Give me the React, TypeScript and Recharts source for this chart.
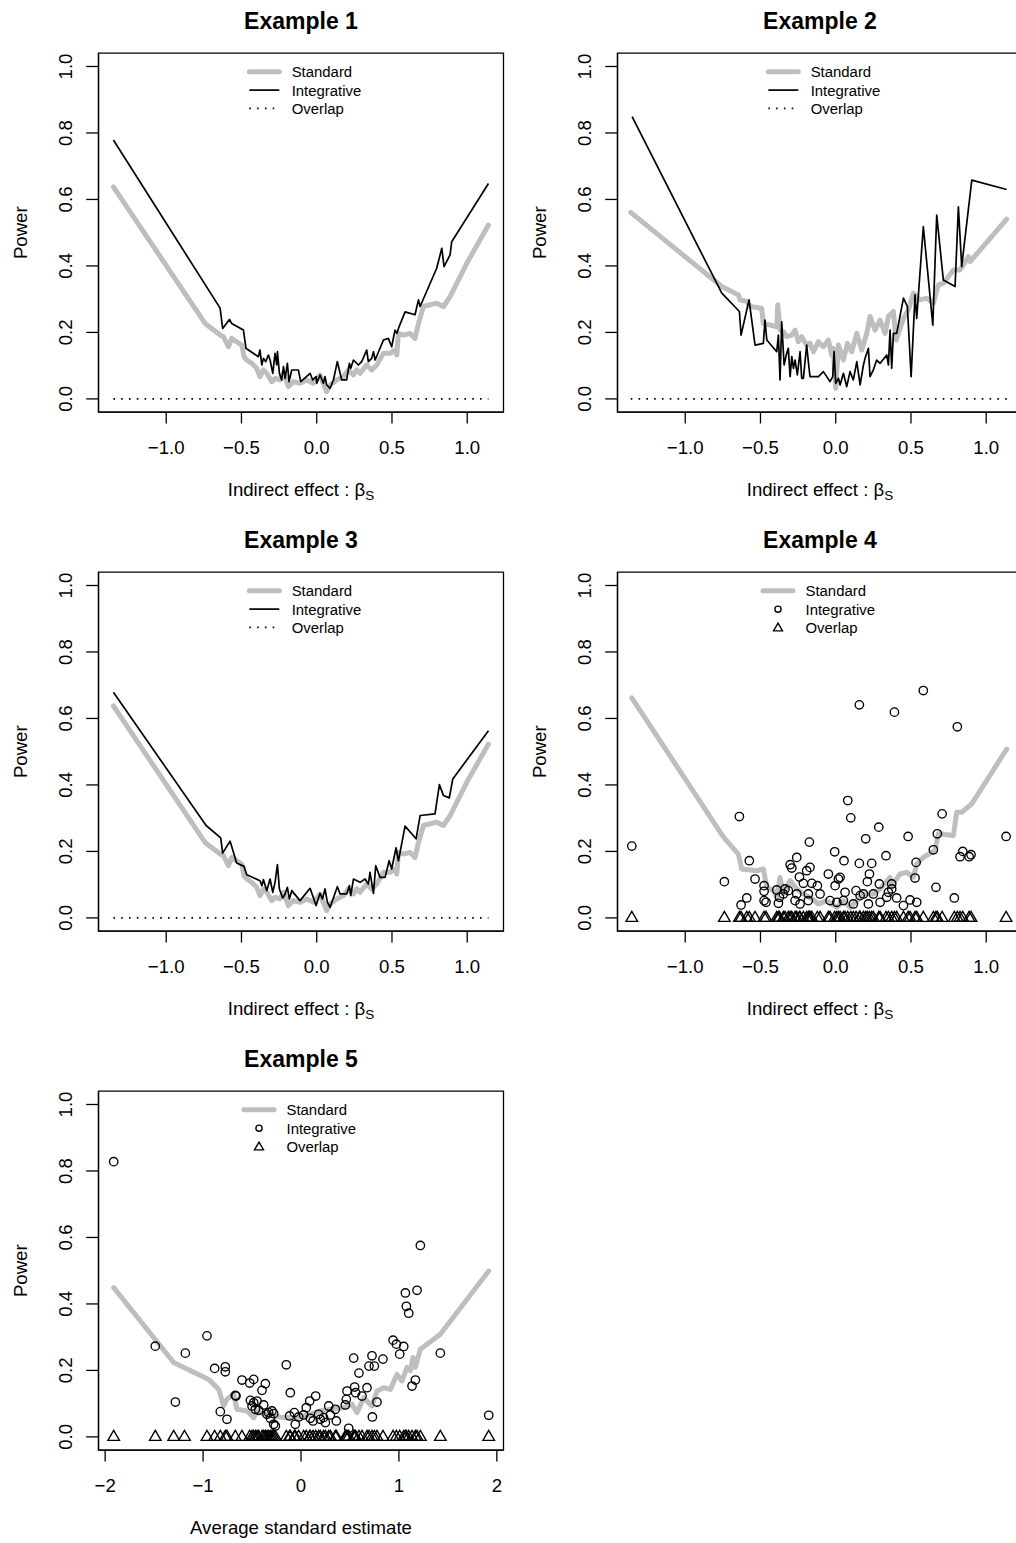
import React from 'react';
import { ComposedChart, Line, Scatter, XAxis, YAxis, ReferenceArea } from 'recharts';

type Pt = [number, number];

// ---------- Data (x = indirect effect / estimate, y = power) ----------
const ex13Standard: Pt[] = [
  [-1.351, 0.638], [-0.742, 0.227], [-0.642, 0.192], [-0.620, 0.187], [-0.587, 0.157], [-0.565, 0.182],
  [-0.532, 0.172], [-0.498, 0.162], [-0.483, 0.127], [-0.465, 0.117], [-0.432, 0.107], [-0.399, 0.092],
  [-0.377, 0.067], [-0.354, 0.087], [-0.332, 0.077], [-0.299, 0.052], [-0.277, 0.062], [-0.244, 0.057],
  [-0.221, 0.077], [-0.188, 0.037], [-0.155, 0.052], [-0.111, 0.047], [-0.066, 0.057], [-0.022, 0.047],
  [0.022, 0.072], [0.044, 0.047], [0.066, 0.022], [0.089, 0.042], [0.133, 0.057], [0.177, 0.067],
  [0.210, 0.087], [0.244, 0.072], [0.266, 0.087], [0.288, 0.077], [0.332, 0.102], [0.365, 0.087],
  [0.399, 0.102], [0.443, 0.137], [0.487, 0.137], [0.520, 0.147], [0.532, 0.132], [0.543, 0.197],
  [0.576, 0.192], [0.620, 0.197], [0.653, 0.182], [0.676, 0.227], [0.709, 0.278], [0.797, 0.288],
  [0.842, 0.278], [0.886, 0.308], [0.997, 0.408], [1.141, 0.523],
];

const ex1Integrative: Pt[] = [
  [-1.351, 0.779], [-0.642, 0.273], [-0.625, 0.212], [-0.580, 0.239], [-0.565, 0.227], [-0.487, 0.207],
  [-0.470, 0.152], [-0.454, 0.147], [-0.388, 0.127], [-0.377, 0.147], [-0.365, 0.102], [-0.354, 0.122],
  [-0.339, 0.112], [-0.321, 0.132], [-0.310, 0.117], [-0.292, 0.077], [-0.277, 0.137], [-0.266, 0.102],
  [-0.261, 0.142], [-0.248, 0.077], [-0.233, 0.057], [-0.221, 0.097], [-0.210, 0.062], [-0.195, 0.107],
  [-0.184, 0.052], [-0.166, 0.087], [-0.122, 0.087], [-0.106, 0.052], [-0.044, 0.077], [-0.027, 0.057],
  [-0.004, 0.067], [0.000, 0.047], [0.022, 0.072], [0.044, 0.047], [0.055, 0.067], [0.066, 0.042],
  [0.089, 0.032], [0.111, 0.057], [0.137, 0.112], [0.166, 0.057], [0.199, 0.057], [0.217, 0.107],
  [0.226, 0.092], [0.244, 0.117], [0.277, 0.102], [0.299, 0.112], [0.332, 0.147], [0.343, 0.112],
  [0.365, 0.122], [0.377, 0.142], [0.388, 0.117], [0.443, 0.177], [0.476, 0.182], [0.498, 0.157],
  [0.520, 0.207], [0.532, 0.197], [0.543, 0.212], [0.587, 0.262], [0.653, 0.253], [0.676, 0.298],
  [0.687, 0.278], [0.797, 0.393], [0.831, 0.453], [0.846, 0.398], [0.886, 0.433], [0.897, 0.473],
  [1.141, 0.648],
];
const ex1OverlapX: number[] = [-1.351, 1.141];

const ex2Standard: Pt[] = [
  [-1.362, 0.561], [-0.757, 0.338], [-0.647, 0.313], [-0.636, 0.298], [-0.591, 0.293], [-0.569, 0.278],
  [-0.492, 0.273], [-0.481, 0.227], [-0.392, 0.217], [-0.385, 0.283], [-0.370, 0.207], [-0.348, 0.202],
  [-0.326, 0.187], [-0.292, 0.192], [-0.270, 0.207], [-0.248, 0.172], [-0.226, 0.187], [-0.193, 0.162],
  [-0.171, 0.167], [-0.148, 0.142], [-0.115, 0.172], [-0.082, 0.157], [-0.049, 0.177], [-0.027, 0.132],
  [-0.016, 0.152], [0.000, 0.032], [0.018, 0.162], [0.051, 0.117], [0.078, 0.167], [0.106, 0.142],
  [0.140, 0.197], [0.173, 0.147], [0.206, 0.197], [0.228, 0.248], [0.261, 0.207], [0.295, 0.237],
  [0.328, 0.197], [0.350, 0.248], [0.383, 0.263], [0.401, 0.177], [0.450, 0.242], [0.483, 0.268],
  [0.516, 0.318], [0.560, 0.298], [0.605, 0.303], [0.649, 0.288], [0.682, 0.343], [0.715, 0.348],
  [0.782, 0.388], [0.826, 0.388], [0.882, 0.428], [0.893, 0.413], [1.136, 0.541],
];

const ex2Integrative: Pt[] = [
  [-1.353, 0.849], [-0.757, 0.318], [-0.640, 0.263], [-0.629, 0.192], [-0.576, 0.298], [-0.536, 0.162],
  [-0.481, 0.167], [-0.470, 0.237], [-0.458, 0.177], [-0.392, 0.142], [-0.381, 0.192], [-0.370, 0.057],
  [-0.359, 0.232], [-0.343, 0.102], [-0.326, 0.137], [-0.315, 0.152], [-0.303, 0.067], [-0.292, 0.127],
  [-0.281, 0.092], [-0.270, 0.117], [-0.255, 0.072], [-0.237, 0.142], [-0.226, 0.062], [-0.215, 0.062],
  [-0.193, 0.162], [-0.182, 0.112], [-0.171, 0.067], [-0.115, 0.067], [-0.082, 0.082], [-0.038, 0.052],
  [-0.020, 0.067], [-0.011, 0.142], [0.000, 0.047], [0.018, 0.062], [0.029, 0.042], [0.051, 0.077],
  [0.073, 0.037], [0.095, 0.082], [0.117, 0.057], [0.140, 0.112], [0.162, 0.042], [0.184, 0.102],
  [0.195, 0.122], [0.217, 0.152], [0.228, 0.067], [0.250, 0.087], [0.272, 0.117], [0.295, 0.107],
  [0.339, 0.132], [0.350, 0.102], [0.361, 0.207], [0.372, 0.092], [0.383, 0.197], [0.405, 0.197],
  [0.450, 0.303], [0.476, 0.278], [0.501, 0.067], [0.527, 0.313], [0.538, 0.242], [0.582, 0.518],
  [0.645, 0.222], [0.671, 0.553], [0.715, 0.358], [0.793, 0.338], [0.815, 0.578], [0.837, 0.398],
  [0.904, 0.658], [1.136, 0.630],
];
const ex2OverlapX: number[] = [-1.362, 1.136];

const ex3Integrative: Pt[] = [
  [-1.351, 0.679], [-0.735, 0.278], [-0.638, 0.241], [-0.625, 0.195], [-0.576, 0.231], [-0.532, 0.165],
  [-0.483, 0.155], [-0.465, 0.130], [-0.377, 0.112], [-0.365, 0.097], [-0.354, 0.115], [-0.332, 0.082],
  [-0.310, 0.117], [-0.292, 0.077], [-0.277, 0.107], [-0.261, 0.160], [-0.248, 0.087], [-0.226, 0.060],
  [-0.210, 0.072], [-0.195, 0.092], [-0.182, 0.057], [-0.166, 0.082], [-0.111, 0.052], [-0.044, 0.089],
  [-0.004, 0.037], [0.022, 0.074], [0.038, 0.057], [0.055, 0.087], [0.071, 0.047], [0.089, 0.032],
  [0.137, 0.094], [0.155, 0.072], [0.199, 0.072], [0.217, 0.097], [0.226, 0.067], [0.244, 0.117],
  [0.288, 0.107], [0.321, 0.117], [0.343, 0.102], [0.354, 0.137], [0.377, 0.074], [0.392, 0.157],
  [0.421, 0.122], [0.454, 0.122], [0.481, 0.172], [0.498, 0.147], [0.527, 0.211], [0.543, 0.172],
  [0.587, 0.276], [0.660, 0.238], [0.687, 0.308], [0.786, 0.313], [0.815, 0.401], [0.842, 0.368],
  [0.881, 0.361], [0.904, 0.418], [1.141, 0.563],
];
const ex3OverlapX: number[] = [-1.351, 1.141];

const ex4Standard: Pt[] = [
  [-1.355, 0.662], [-0.746, 0.243], [-0.647, 0.192], [-0.625, 0.147], [-0.525, 0.142], [-0.481, 0.147],
  [-0.458, 0.092], [-0.414, 0.082], [-0.392, 0.062], [-0.370, 0.122], [-0.348, 0.072], [-0.303, 0.112],
  [-0.259, 0.087], [-0.215, 0.072], [-0.171, 0.062], [-0.115, 0.042], [-0.060, 0.052], [0.007, 0.032],
  [0.051, 0.052], [0.095, 0.032], [0.140, 0.052], [0.184, 0.072], [0.250, 0.072], [0.295, 0.087],
  [0.361, 0.122], [0.372, 0.097], [0.427, 0.132], [0.472, 0.137], [0.516, 0.122], [0.538, 0.162],
  [0.582, 0.182], [0.660, 0.203], [0.682, 0.253], [0.782, 0.248], [0.804, 0.318], [0.837, 0.318],
  [0.904, 0.343], [1.136, 0.508],
];

const ex4Integrative: Pt[] = [
  [-1.355, 0.216], [-0.740, 0.109], [-0.640, 0.305], [-0.629, 0.039], [-0.591, 0.060], [-0.574, 0.172],
  [-0.536, 0.117], [-0.476, 0.097], [-0.476, 0.080], [-0.476, 0.052], [-0.463, 0.047], [-0.392, 0.084],
  [-0.381, 0.044], [-0.374, 0.062], [-0.348, 0.072], [-0.337, 0.087], [-0.315, 0.082], [-0.303, 0.160],
  [-0.292, 0.150], [-0.270, 0.052], [-0.259, 0.182], [-0.259, 0.072], [-0.241, 0.123], [-0.237, 0.042],
  [-0.215, 0.104], [-0.193, 0.142], [-0.182, 0.072], [-0.182, 0.052], [-0.175, 0.228], [-0.171, 0.152],
  [-0.159, 0.104], [-0.122, 0.097], [-0.104, 0.072], [-0.049, 0.132], [-0.038, 0.052], [-0.007, 0.199],
  [-0.004, 0.097], [0.007, 0.047], [0.018, 0.117], [0.029, 0.122], [0.051, 0.052], [0.055, 0.172],
  [0.062, 0.077], [0.080, 0.353], [0.100, 0.301], [0.117, 0.042], [0.135, 0.082], [0.157, 0.641],
  [0.157, 0.164], [0.162, 0.067], [0.184, 0.072], [0.199, 0.238], [0.210, 0.109], [0.217, 0.042],
  [0.224, 0.132], [0.239, 0.164], [0.250, 0.072], [0.286, 0.273], [0.290, 0.102], [0.295, 0.047],
  [0.334, 0.187], [0.339, 0.062], [0.350, 0.077], [0.372, 0.102], [0.372, 0.087], [0.390, 0.619],
  [0.405, 0.060], [0.450, 0.037], [0.481, 0.245], [0.494, 0.054], [0.527, 0.120], [0.534, 0.167],
  [0.538, 0.047], [0.582, 0.684], [0.649, 0.205], [0.666, 0.092], [0.675, 0.253], [0.707, 0.313],
  [0.788, 0.060], [0.808, 0.575], [0.826, 0.184], [0.844, 0.200], [0.886, 0.184], [0.899, 0.190],
  [1.132, 0.245],
];
const ex4OverlapX: number[] = [
  -1.355, -0.740, -0.640, -0.629, -0.591, -0.574, -0.536, -0.476, -0.463, -0.392, -0.381, -0.374,
  -0.348, -0.337, -0.315, -0.303, -0.292, -0.270, -0.259, -0.241, -0.237, -0.215, -0.193, -0.182,
  -0.175, -0.171, -0.159, -0.122, -0.104, -0.049, -0.038, -0.007, 0.007, 0.018, 0.029, 0.051, 0.062,
  0.080, 0.100, 0.117, 0.135, 0.157, 0.162, 0.184, 0.199, 0.210, 0.224, 0.239, 0.250, 0.286, 0.295,
  0.334, 0.350, 0.372, 0.390, 0.405, 0.450, 0.481, 0.494, 0.527, 0.538, 0.582, 0.649, 0.666, 0.675,
  0.707, 0.788, 0.808, 0.826, 0.844, 0.886, 0.899, 1.132,
];

const ex5Standard: Pt[] = [
  [-1.913, 0.449], [-1.300, 0.224], [-0.943, 0.173], [-0.840, 0.143], [-0.790, 0.093], [-0.756, 0.113],
  [-0.688, 0.128], [-0.654, 0.083], [-0.551, 0.078], [-0.483, 0.058], [-0.449, 0.078], [-0.381, 0.068],
  [-0.279, 0.063], [-0.177, 0.058], [-0.041, 0.058], [0.095, 0.068], [0.197, 0.078], [0.300, 0.083],
  [0.436, 0.088], [0.521, 0.098], [0.572, 0.073], [0.640, 0.118], [0.725, 0.093], [0.776, 0.138],
  [0.844, 0.148], [0.912, 0.143], [0.980, 0.188], [1.031, 0.168], [1.083, 0.209], [1.117, 0.199],
  [1.144, 0.239], [1.168, 0.209], [1.219, 0.264], [1.423, 0.309], [1.917, 0.499],
];

const ex5Integrative: Pt[] = [
  [-1.913, 0.828], [-1.488, 0.273], [-1.283, 0.105], [-1.181, 0.252], [-0.960, 0.304], [-0.882, 0.206],
  [-0.824, 0.076], [-0.773, 0.211], [-0.773, 0.196], [-0.756, 0.053], [-0.671, 0.125], [-0.664, 0.123],
  [-0.603, 0.171], [-0.524, 0.162], [-0.517, 0.110], [-0.500, 0.093], [-0.483, 0.173], [-0.483, 0.103],
  [-0.466, 0.083], [-0.449, 0.108], [-0.432, 0.080], [-0.398, 0.140], [-0.381, 0.096], [-0.364, 0.160],
  [-0.347, 0.068], [-0.330, 0.073], [-0.313, 0.056], [-0.296, 0.078], [-0.279, 0.038], [-0.279, 0.070],
  [-0.262, 0.033], [-0.150, 0.217], [-0.116, 0.063], [-0.109, 0.133], [-0.068, 0.073], [-0.058, 0.038],
  [-0.024, 0.060], [0.027, 0.066], [0.054, 0.088], [0.089, 0.108], [0.095, 0.056], [0.123, 0.048],
  [0.150, 0.123], [0.180, 0.068], [0.197, 0.053], [0.231, 0.058], [0.249, 0.043], [0.283, 0.093],
  [0.300, 0.066], [0.351, 0.083], [0.361, 0.048], [0.453, 0.096], [0.463, 0.113], [0.470, 0.138],
  [0.487, 0.026], [0.538, 0.237], [0.548, 0.150], [0.558, 0.133], [0.592, 0.192], [0.623, 0.123],
  [0.674, 0.148], [0.694, 0.213], [0.725, 0.244], [0.729, 0.060], [0.749, 0.213], [0.776, 0.105],
  [0.837, 0.234], [0.940, 0.291], [0.974, 0.279], [1.008, 0.249], [1.049, 0.272], [1.066, 0.433],
  [1.076, 0.393], [1.100, 0.372], [1.134, 0.153], [1.168, 0.171], [1.185, 0.441], [1.219, 0.576],
  [1.423, 0.252], [1.917, 0.065],
];
const ex5OverlapX: number[] = [
  -1.913, -1.488, -1.300, -1.190, -0.960, -0.882, -0.824, -0.773, -0.756, -0.671, -0.603, -0.524,
  -0.500, -0.483, -0.466, -0.449, -0.432, -0.398, -0.381, -0.364, -0.347, -0.330, -0.313, -0.296,
  -0.279, -0.262, -0.150, -0.116, -0.109, -0.068, -0.058, -0.024, 0.027, 0.054, 0.089, 0.095, 0.123,
  0.150, 0.180, 0.197, 0.231, 0.249, 0.283, 0.300, 0.351, 0.361, 0.453, 0.463, 0.470, 0.487, 0.538,
  0.548, 0.558, 0.592, 0.623, 0.674, 0.694, 0.725, 0.749, 0.776, 0.837, 0.940, 0.974, 1.008, 1.049,
  1.066, 1.076, 1.100, 1.134, 1.168, 1.185, 1.219, 1.423, 1.917,
];

const xTicksBeta: number[] = [-1, -0.5, 0, 0.5, 1];
const xTicksAvg: number[] = [-2, -1, 0, 1, 2];
const yTicks: number[] = [0, 0.2, 0.4, 0.6, 0.8, 1.0];
const legendLabels: string[] = ['Standard', 'Integrative', 'Overlap'];

// ---------- Layout / style ----------
const FONT = '"Liberation Sans", Arial, Helvetica, sans-serif';
const GRAY = '#BEBEBE';
const PANEL_W = 519;
const PANEL_H = 519;
const PLOT_L = 98.5;
const PLOT_T = 53.2;
const PLOT_W = 405;
const PLOT_H = 359;
const PLOT_B = PLOT_T + PLOT_H;
const CX = PLOT_L + PLOT_W / 2;
const Y_DOMAIN: [number, number] = [-0.04, 1.04];
const AX_FS = 18.6;
const LEG_FS = 14.9;
const STD_W = 5;

const toRows = (pts: Pt[]) => pts.map(([x, y]) => ({ x, y }));
const zeroRows = (xs: number[]) => xs.map((x) => ({ x, y: 0 }));

const fmtMinus = (s: string) => s.replace('-', '\u2212');

const circleShape = (p: any) => (
  <circle cx={p.cx} cy={p.cy} r={4.2} fill="none" stroke="#000" strokeWidth={1.35} />
);
const triPath = (cx: number, cy: number, s: number) =>
  `M${cx},${cy - 6.6 * s} L${cx + 5.8 * s},${cy + 3.4 * s} L${cx - 5.8 * s},${cy + 3.4 * s} Z`;
const triShape = (p: any) => (
  <path d={triPath(p.cx, p.cy, 1)} fill="none" stroke="#000" strokeWidth={1.35} strokeLinejoin="miter" />
);

type PanelProps = {
  title: string;
  left: number;
  top: number;
  xDomain: [number, number];
  xTicks: number[];
  xDigits: number;
  xTitle: React.ReactNode;
  standard: Pt[];
  integrative: Pt[];
  overlapX: number[];
  points: boolean;
};

function Panel(props: PanelProps) {
  const { title, left, top, xDomain, xTicks, xDigits, xTitle, standard, integrative, overlapX, points } = props;
  const std = toRows(standard);
  const integ = toRows(integrative);
  const ovl = zeroRows(overlapX);

  const xTick = (tp: any) => (
    <text x={tp.x} y={PLOT_B + 41.8} textAnchor="middle" fontSize={AX_FS} fontFamily={FONT} fill="#000">
      {fmtMinus(Number(tp.payload.value).toFixed(xDigits))}
    </text>
  );
  const yTick = (tp: any) => (
    <text
      transform={`translate(72.3, ${tp.y}) rotate(-90)`}
      x={0}
      y={0}
      textAnchor="middle"
      fontSize={AX_FS}
      fontFamily={FONT}
      fill="#000"
    >
      {Number(tp.payload.value).toFixed(1)}
    </text>
  );

  const symX1 = points ? 244 : 249.3;
  const symX2 = points ? 274 : 279.3;
  const textX = points ? 286.5 : 291.7;
  const symCx = (symX1 + symX2) / 2;
  const bases = [77.2, 95.5, 113.8];

  return (
    <div style={{ position: 'absolute', left, top, width: PANEL_W, height: PANEL_H }}>
      <ComposedChart
        width={PANEL_W}
        height={PANEL_H}
        margin={{ top: PLOT_T, right: PANEL_W - PLOT_L - PLOT_W, bottom: 0, left: 0 }}
      >
        <XAxis
          dataKey="x"
          type="number"
          domain={xDomain}
          allowDataOverflow
          ticks={xTicks}
          interval={0}
          height={PANEL_H - PLOT_T - PLOT_H}
          tickSize={11.3}
          tick={xTick}
          axisLine={{ stroke: '#000', strokeWidth: 1.3 }}
          tickLine={{ stroke: '#000', strokeWidth: 1.3 }}
        />
        <YAxis
          dataKey="y"
          type="number"
          domain={Y_DOMAIN}
          allowDataOverflow
          ticks={yTicks}
          interval={0}
          width={PLOT_L}
          tickSize={12.3}
          tick={yTick}
          axisLine={{ stroke: '#000', strokeWidth: 1.3 }}
          tickLine={{ stroke: '#000', strokeWidth: 1.3 }}
        />
        <ReferenceArea
          x1={xDomain[0]}
          x2={xDomain[1]}
          y1={Y_DOMAIN[0]}
          y2={Y_DOMAIN[1]}
          fill="none"
          fillOpacity={0}
          stroke="#000"
          strokeWidth={1.3}
          ifOverflow="visible"
        />
        <Line
          data={std}
          dataKey="y"
          type="linear"
          stroke={GRAY}
          strokeWidth={STD_W}
          strokeLinejoin="round"
          strokeLinecap="round"
          dot={false}
          activeDot={false}
          isAnimationActive={false}
        />
        {points ? (
          <Scatter data={integ} dataKey="y" shape={circleShape} isAnimationActive={false} />
        ) : (
          <Line
            data={integ}
            dataKey="y"
            type="linear"
            stroke="#000"
            strokeWidth={1.7}
            strokeLinejoin="round"
            dot={false}
            activeDot={false}
            isAnimationActive={false}
          />
        )}
        {points ? (
          <Scatter data={ovl} dataKey="y" shape={triShape} isAnimationActive={false} />
        ) : (
          <Line
            data={ovl}
            dataKey="y"
            type="linear"
            stroke="#000"
            strokeWidth={1.6}
            strokeDasharray="1.6 6.2"
            dot={false}
            activeDot={false}
            isAnimationActive={false}
          />
        )}

        <g fontFamily={FONT}>
          <text x={CX} y={28.8} textAnchor="middle" fontSize={23} fontWeight="bold" fill="#000">
            {title}
          </text>
          <text transform={`translate(26.7, ${PLOT_T + PLOT_H / 2}) rotate(-90)`} textAnchor="middle" fontSize={AX_FS} fill="#000">
            Power
          </text>
          <text x={CX} y={PLOT_B + 83.5} textAnchor="middle" fontSize={AX_FS} fill="#000">
            {xTitle}
          </text>
          {/* legend */}
          <line x1={symX1} x2={symX2} y1={bases[0] - 5.4} y2={bases[0] - 5.4} stroke={GRAY} strokeWidth={STD_W} strokeLinecap="round" />
          {points ? (
            <g>
              <circle cx={symCx} cy={bases[1] - 5.3} r={3.1} fill="none" stroke="#000" strokeWidth={1.35} />
              <path d={triPath(symCx, bases[2] - 4.6, 0.78)} fill="none" stroke="#000" strokeWidth={1.35} />
            </g>
          ) : (
            <g>
              <line x1={symX1} x2={symX2} y1={bases[1] - 5.4} y2={bases[1] - 5.4} stroke="#000" strokeWidth={1.7} />
              <line x1={symX1} x2={symX2} y1={bases[2] - 5.4} y2={bases[2] - 5.4} stroke="#000" strokeWidth={1.6} strokeDasharray="1.6 6.2" />
            </g>
          )}
          {legendLabels.map((lab, i) => (
            <text key={lab} x={textX} y={bases[i]} fontSize={LEG_FS} fill="#000">
              {lab}
            </text>
          ))}
        </g>
      </ComposedChart>
    </div>
  );
}

const betaTitle = (
  <>
    <tspan>Indirect effect : β</tspan>
    <tspan fontSize={13.5} dy={4.5}>S</tspan>
  </>
);

const X_BETA: [number, number] = [-1.45, 1.241];
const X_AVG: [number, number] = [-2.068, 2.068];
const COL = 518.7;
const ROW = 518.8;

export default function App() {
  return (
    <div
      style={{
        position: 'absolute',
        left: 0,
        top: 0,
        width: 1016,
        height: 1543,
        overflow: 'hidden',
        background: '#fff',
      }}
    >
      <Panel title="Example 1" left={0} top={0} xDomain={X_BETA} xTicks={xTicksBeta} xDigits={1}
        xTitle={betaTitle} standard={ex13Standard} integrative={ex1Integrative} overlapX={ex1OverlapX} points={false} />
      <Panel title="Example 2" left={COL} top={0} xDomain={X_BETA} xTicks={xTicksBeta} xDigits={1}
        xTitle={betaTitle} standard={ex2Standard} integrative={ex2Integrative} overlapX={ex2OverlapX} points={false} />
      <Panel title="Example 3" left={0} top={ROW} xDomain={X_BETA} xTicks={xTicksBeta} xDigits={1}
        xTitle={betaTitle} standard={ex13Standard} integrative={ex3Integrative} overlapX={ex3OverlapX} points={false} />
      <Panel title="Example 4" left={COL} top={ROW} xDomain={X_BETA} xTicks={xTicksBeta} xDigits={1}
        xTitle={betaTitle} standard={ex4Standard} integrative={ex4Integrative} overlapX={ex4OverlapX} points={true} />
      <Panel title="Example 5" left={0} top={2 * ROW} xDomain={X_AVG} xTicks={xTicksAvg} xDigits={0}
        xTitle="Average standard estimate" standard={ex5Standard} integrative={ex5Integrative} overlapX={ex5OverlapX} points={true} />
    </div>
  );
}
